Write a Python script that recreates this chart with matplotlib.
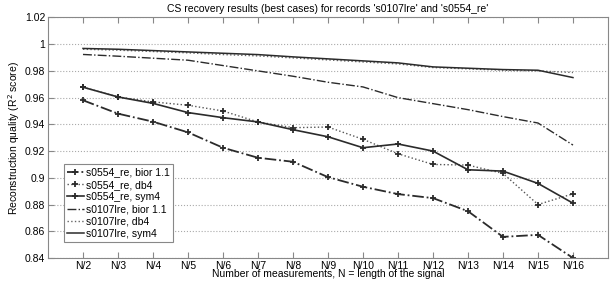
# CS recovery results plot
import numpy as np
import matplotlib.pyplot as plt

plt.rcParams['font.family'] = ['Liberation Sans', 'DejaVu Sans']

labels = ['N/2', 'N/3', 'N/4', 'N/5', 'N/6', 'N/7', 'N/8', 'N/9',
          'N/10', 'N/11', 'N/12', 'N/13', 'N/14', 'N/15', 'N/16']

s0554_bior = [0.958, 0.948, 0.942, 0.934, 0.9225, 0.915, 0.912, 0.9005,
              0.8933, 0.8878, 0.8848, 0.875, 0.8558, 0.8573, 0.840]
s0554_db4 = [0.9678, 0.9605, 0.9568, 0.9543, 0.950, 0.9418, 0.9375, 0.938,
             0.9288, 0.918, 0.910, 0.9095, 0.9033, 0.880, 0.888]
s0554_sym4 = [0.9678, 0.9605, 0.9557, 0.9488, 0.945, 0.9418, 0.936, 0.9307,
              0.9225, 0.9253, 0.920, 0.906, 0.905, 0.8958, 0.881]
s0107_bior = [0.9923, 0.991, 0.9895, 0.988, 0.984, 0.980, 0.976, 0.9715,
              0.968, 0.960, 0.9555, 0.951, 0.9458, 0.941, 0.9245]
s0107_db4 = [0.9962, 0.9955, 0.9945, 0.9935, 0.9922, 0.9912, 0.9897, 0.9882,
             0.9867, 0.9852, 0.9825, 0.9815, 0.9805, 0.9800, 0.9788]
s0107_sym4 = [0.9968, 0.9962, 0.9952, 0.9942, 0.9932, 0.9922, 0.9905, 0.989,
              0.9875, 0.986, 0.983, 0.982, 0.981, 0.9805, 0.975]

x = np.arange(1, len(labels) + 1)

fig = plt.figure(figsize=(6.13, 2.86), dpi=100)
ax = fig.add_axes([0.0783, 0.098, 0.9135, 0.841])

dark = '#2b2b2b'
ax.plot(x, s0554_bior, color=dark, linestyle='-.', linewidth=1.3, marker='+',
        markersize=5, markeredgewidth=1.3, label='s0554_re, bior 1.1')
ax.plot(x, s0554_db4, color='#555555', linestyle=':', linewidth=1.0, marker='+',
        markersize=5, markeredgewidth=1.3, markeredgecolor=dark, label='s0554_re, db4')
ax.plot(x, s0554_sym4, color=dark, linestyle='-', linewidth=1.2, marker='+',
        markersize=5, markeredgewidth=1.3, label='s0554_re, sym4')
ax.plot(x, s0107_bior, color=dark, linestyle='-.', linewidth=1.0, label='s0107lre, bior 1.1')
ax.plot(x, s0107_db4, color='#666666', linestyle=':', linewidth=1.0, label='s0107lre, db4')
ax.plot(x, s0107_sym4, color=dark, linestyle='-', linewidth=1.1, label='s0107lre, sym4')

ax.set_xlim(0, 16)
ax.set_ylim(0.84, 1.02)
ax.set_xticks(x)
ax.set_xticklabels(labels)
ax.set_yticks([0.84, 0.86, 0.88, 0.9, 0.92, 0.94, 0.96, 0.98, 1, 1.02])
ax.set_yticklabels(['0.84', '0.86', '0.88', '0.9', '0.92', '0.94', '0.96', '0.98', '1', '1.02'])
ax.tick_params(direction='in', top=True, right=False, labelsize=7.5, length=4, pad=2,
               color='#888888')
ax.yaxis.grid(True, linestyle=':', color='#aaaaaa', linewidth=0.8)
for s in ax.spines.values():
    s.set_color('#888888')

ax.set_title("CS recovery results (best cases) for records 's0107lre' and 's0554_re'",
             fontsize=7.5, pad=4)
ax.set_xlabel('Number of measurements, N = length of the signal', fontsize=7.5, labelpad=-1)
ax.set_ylabel('Reconstruction quality (R$^2$ score)', fontsize=7.5, labelpad=2)

leg = ax.legend(loc='lower left', bbox_to_anchor=(0.0286, 0.066), fontsize=7.5,
                handlelength=1.6, handletextpad=0.2, borderpad=0.3, labelspacing=0.22,
                borderaxespad=0, fancybox=False, framealpha=1, edgecolor='#888888')
leg.get_frame().set_linewidth(0.8)

plt.savefig('out.png', dpi=100)
